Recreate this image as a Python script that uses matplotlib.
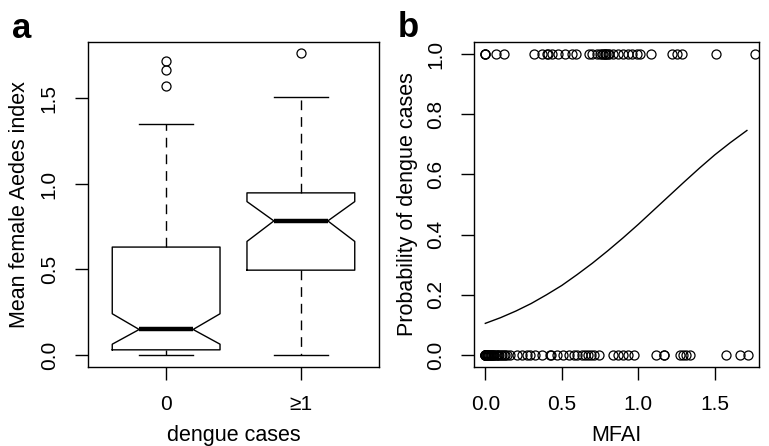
import matplotlib
matplotlib.use("Agg")
import matplotlib.pyplot as plt
import numpy as np

plt.rcParams['font.family'] = ['Liberation Sans', 'DejaVu Sans']

# ---- Panel a: boxplot statistics ----
group_labels = ['0', '≥1']
box_med = [0.149, 0.784]
box_q1 = [0.030, 0.496]
box_q3 = [0.631, 0.948]
box_whislo = [0.0, 0.0]
box_whishi = [1.351, 1.510]
box_cilo = [0.063, 0.664]
box_cihi = [0.241, 0.897]
box_fliers = [[1.575, 1.667, 1.722], [1.767]]

# ---- Panel b: MFAI values by outcome ----
mfai_case = [0.0, 0.0, 0.0, 0.07, 0.12, 0.315, 0.37, 0.40, 0.41, 0.435, 0.475,
             0.52, 0.565, 0.595, 0.68, 0.70, 0.73, 0.75, 0.76, 0.77, 0.78, 0.78,
             0.79, 0.80, 0.81, 0.835, 0.87, 0.90, 0.935, 0.96, 0.99, 1.01,
             1.085, 1.22, 1.255, 1.285, 1.51, 1.76]
mfai_nocase = [0.0, 0.0, 0.0, 0.0, 0.0, 0.0, 0.005, 0.01, 0.01, 0.015, 0.02,
               0.025, 0.03, 0.035, 0.04, 0.045, 0.05, 0.055, 0.06, 0.07, 0.075,
               0.08, 0.09, 0.10, 0.11, 0.12, 0.13, 0.145, 0.16, 0.205, 0.24,
               0.27, 0.29, 0.325, 0.37, 0.42, 0.43, 0.47, 0.51, 0.55, 0.58,
               0.60, 0.63, 0.65, 0.67, 0.69, 0.71, 0.74, 0.835, 0.87, 0.90,
               0.935, 0.975, 1.115, 1.17, 1.17, 1.27, 1.29, 1.31, 1.34, 1.575,
               1.665, 1.72]
curve_x = [0.0, 0.1, 0.2, 0.3, 0.4, 0.5, 0.6, 0.7, 0.8, 0.9, 1.0, 1.1, 1.2,
           1.3, 1.4, 1.5, 1.6, 1.71]
curve_y = [0.105, 0.124, 0.146, 0.171, 0.200, 0.231, 0.267, 0.305, 0.346,
           0.389, 0.434, 0.481, 0.528, 0.575, 0.621, 0.665, 0.705, 0.746]

FS = 15
LFS = 15.5
fig = plt.figure(figsize=(7.69, 4.46), dpi=100)
W, H = 769, 446

def px_axes(l, t, r, b):
    return fig.add_axes([l / W, 1 - b / H, (r - l) / W, (b - t) / H])

axa = px_axes(88, 42, 379, 367)
axb = px_axes(474.3, 42, 759, 367)

# Panel a
stats = []
for i in range(2):
    stats.append(dict(med=box_med[i], q1=box_q1[i], q3=box_q3[i],
                      whislo=box_whislo[i], whishi=box_whishi[i],
                      cilo=box_cilo[i], cihi=box_cihi[i],
                      fliers=np.array(box_fliers[i]), label=group_labels[i]))
axa.bxp(stats, positions=[1, 2], widths=0.8, shownotches=True,
        boxprops=dict(color='black', linewidth=1.0),
        medianprops=dict(color='black', linewidth=3.2, solid_capstyle='butt'),
        whiskerprops=dict(color='black', linewidth=1.0, linestyle=(0, (7, 5))),
        capprops=dict(color='black', linewidth=1.0),
        flierprops=dict(marker='o', markerfacecolor='none', markeredgecolor='black',
                        markersize=6.5, markeredgewidth=0.9))
axa.set_xlim(0.42, 2.58)
axa.set_ylim(-0.0704, 1.8304)
axa.set_yticks([0, 0.5, 1.0, 1.5])
axa.set_yticklabels(['0.0', '0.5', '1.0', '1.5'])
axa.set_xticks([1, 2])
axa.set_xticklabels(group_labels)
axa.set_ylabel('Mean female Aedes index', fontsize=LFS, va='center')
axa.yaxis.set_label_coords((19.5 - 88) / 291, 0.5)
axa.set_xlabel('dengue cases', fontsize=LFS, va='baseline')
axa.xaxis.set_label_coords(0.5, (5 - 79) / 325)

# Panel b
axb.plot(mfai_case, np.ones(len(mfai_case)), linestyle='none', marker='o',
         markerfacecolor='none', markeredgecolor='black', markersize=6.5,
         markeredgewidth=0.9)
axb.plot(mfai_nocase, np.zeros(len(mfai_nocase)), linestyle='none', marker='o',
         markerfacecolor='none', markeredgecolor='black', markersize=6.5,
         markeredgewidth=0.9)
axb.plot(curve_x, curve_y, color='black', linewidth=1.0)
axb.set_xlim(-0.072, 1.789)
axb.set_ylim(-0.04, 1.04)
axb.set_xticks([0, 0.5, 1.0, 1.5])
axb.set_xticklabels(['0.0', '0.5', '1.0', '1.5'])
axb.set_yticks([0, 0.2, 0.4, 0.6, 0.8, 1.0])
axb.set_yticklabels(['0.0', '0.2', '0.4', '0.6', '0.8', '1.0'])
axb.set_ylabel('Probability of dengue cases', fontsize=LFS, va='center')
axb.yaxis.set_label_coords((407 - 474.3) / 284.7, 0.5)
axb.set_xlabel('MFAI', fontsize=LFS, va='baseline')
axb.xaxis.set_label_coords(0.5, (5 - 79) / 325)

for ax in (axa, axb):
    for s in ax.spines.values():
        s.set_linewidth(1.0)
        s.set_color('black')
    ax.tick_params(axis='both', length=9.5, width=1.0, labelsize=FS, color='black')
    ax.tick_params(axis='x', pad=11)
    ax.tick_params(axis='y', pad=11.5, labelrotation=90)
    for lab in ax.get_yticklabels():
        lab.set_va('center')

fig.text(12 / W, 1 - 38 / H, 'a', fontsize=25, fontweight='bold', va='baseline', ha='left')
fig.text(398 / W, 1 - 37 / H, 'b', fontsize=25, fontweight='bold', va='baseline', ha='left')

fig.savefig('out.png', dpi=100)
